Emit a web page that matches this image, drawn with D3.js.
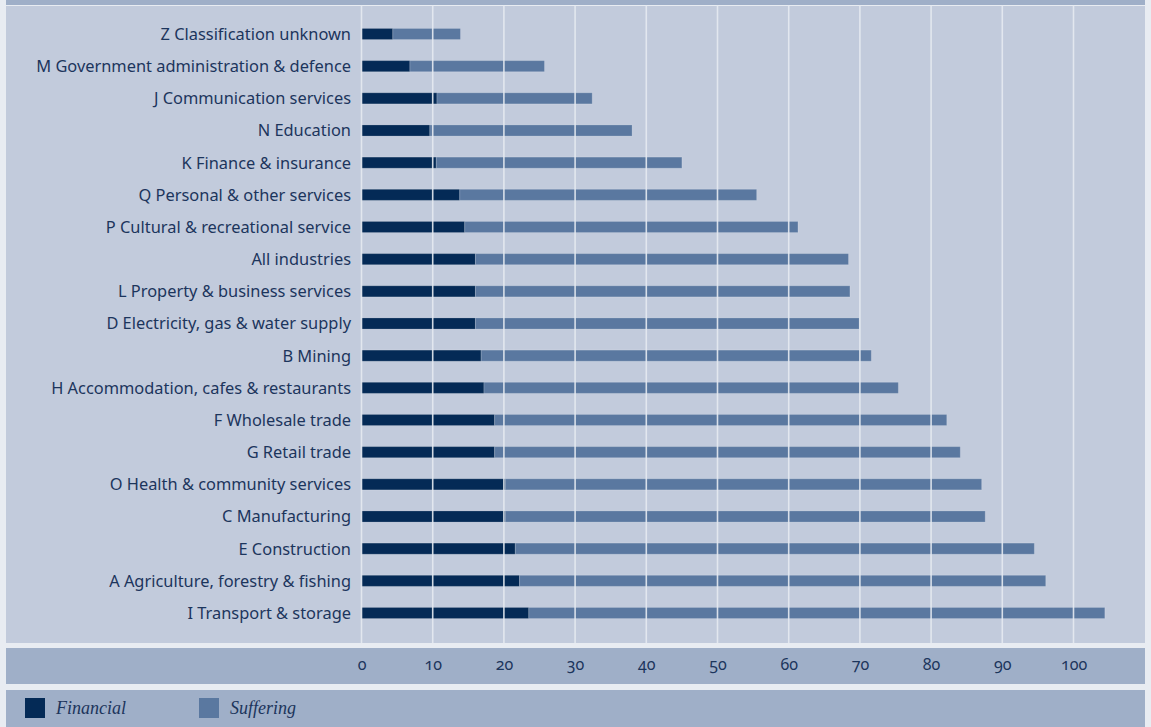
<!DOCTYPE html>
<html>
<head>
<meta charset="utf-8">
<script src="https://cdn.jsdelivr.net/npm/d3@7"></script>
<style>
  html, body { margin: 0; padding: 0; background: #e8ecf2; }
  svg { display: block; }
  .cat { font-family: "Noto Sans", "Open Sans", sans-serif; font-size: 16.4px; fill: #1c355c; }
  .tick-label { font-family: "Noto Sans", "Open Sans", sans-serif; font-size: 16px; fill: #1c355c;
                font-variant-numeric: oldstyle-nums; font-feature-settings: "onum" 1; }
  .legend-text { font-family: "Liberation Serif", "DejaVu Serif", serif; font-style: italic; font-size: 18px; fill: #1c355c; }
</style>
</head>
<body>
<svg id="chart" width="1151" height="727"></svg>
<script>
// Industry categories, top to bottom
const categories = [
  "Z Classification unknown",
  "M Government administration & defence",
  "J Communication services",
  "N Education",
  "K Finance & insurance",
  "Q Personal & other services",
  "P Cultural & recreational service",
  "All industries",
  "L Property & business services",
  "D Electricity, gas & water supply",
  "B Mining",
  "H Accommodation, cafes & restaurants",
  "F Wholesale trade",
  "G Retail trade",
  "O Health & community services",
  "C Manufacturing",
  "E Construction",
  "A Agriculture, forestry & fishing",
  "I Transport & storage"
];

// Financial component per category
const financial = [4.4, 6.8, 10.6, 9.6, 10.5, 13.8, 14.5, 16.0, 16.0, 16.0, 16.8, 17.2, 18.7, 18.7, 20.2, 20.2, 21.6, 22.2, 23.5];

// Suffering component per category (stacked after financial)
const suffering = [9.5, 18.9, 21.8, 28.4, 34.5, 41.7, 46.8, 52.4, 52.6, 53.9, 54.8, 58.2, 63.5, 65.4, 66.9, 67.4, 72.9, 73.9, 80.9];

// Axis ticks
const tickValues = [0, 10, 20, 30, 40, 50, 60, 70, 80, 90, 100];

const seriesNames = ["Financial", "Suffering"];
const seriesColors = ["#042a56", "#5a78a0"];

const svg = d3.select("#chart");

// Background panels
svg.append("rect").attr("x", 0).attr("y", 0).attr("width", 1151).attr("height", 727).attr("fill", "#e8ecf2");
svg.append("rect").attr("x", 6).attr("y", 0).attr("width", 1139).attr("height", 5).attr("fill", "#9fafc8");
svg.append("rect").attr("x", 6).attr("y", 6).attr("width", 1139).attr("height", 637).attr("fill", "#c2cbdc");
svg.append("rect").attr("x", 6).attr("y", 648).attr("width", 1139).attr("height", 36).attr("fill", "#9fafc8");
svg.append("rect").attr("x", 6).attr("y", 690).attr("width", 1139).attr("height", 37).attr("fill", "#9fafc8");

const x = d3.scaleLinear().domain([0, 100]).range([361.5, 1073.5]);
const y = d3.scalePoint().domain(categories).range([34, 613]);
const barH = y.step() * 0.345;

const rows = categories.map((c, i) => ({ cat: c, fin: financial[i], suf: suffering[i] }));
const stacked = d3.stack().keys(["fin", "suf"])(rows);

// Bars
const layers = svg.append("g").selectAll("g")
  .data(stacked).join("g")
  .attr("fill", (d, i) => seriesColors[i]);

layers.selectAll("rect")
  .data(d => d)
  .join("rect")
  .attr("x", d => x(d[0]))
  .attr("y", d => y(d.data.cat) - barH / 2)
  .attr("width", d => x(d[1]) - x(d[0]))
  .attr("height", barH)
  .attr("stroke", "rgba(255,255,255,0.18)")
  .attr("stroke-width", 1);

// Vertical gridlines drawn over the bars
svg.append("g").selectAll("line")
  .data(tickValues).join("line")
  .attr("x1", d => x(d)).attr("x2", d => x(d))
  .attr("y1", 5).attr("y2", 643)
  .attr("stroke", "#e6eaf1")
  .attr("stroke-opacity", 0.9)
  .attr("stroke-width", 1.6);

// Category labels
svg.append("g").selectAll("text")
  .data(categories).join("text")
  .attr("class", "cat")
  .attr("x", 351)
  .attr("y", d => y(d))
  .attr("dy", "0.36em")
  .attr("text-anchor", "end")
  .text(d => d);

// Value axis in the strip beneath the panel
const axis = d3.axisBottom(x).tickValues(tickValues).tickSize(0).tickPadding(0);
const axisG = svg.append("g").attr("transform", "translate(0,658)").call(axis);
axisG.select(".domain").remove();
axisG.selectAll("text")
  .attr("class", "tick-label")
  .attr("fill", null)
  .attr("font-family", null)
  .attr("font-size", null)
  .attr("y", 0)
  .attr("dy", "0.75em");

// Legend
const legend = svg.append("g").selectAll("g")
  .data(seriesNames).join("g")
  .attr("transform", (d, i) => `translate(${25 + i * 174},698)`);
legend.append("rect").attr("width", 20).attr("height", 20).attr("fill", (d, i) => seriesColors[i]);
legend.append("text").attr("class", "legend-text").attr("x", 31).attr("y", 15.5).text(d => d);
</script>
</body>
</html>
